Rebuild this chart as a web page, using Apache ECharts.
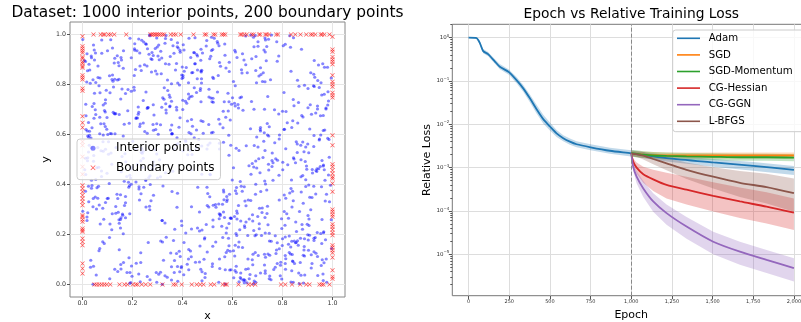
<!DOCTYPE html>
<html>
<head>
<meta charset="utf-8">
<script src="https://cdn.jsdelivr.net/npm/echarts@6/dist/echarts.min.js"></script>
<style>
  html, body { margin: 0; padding: 0; background: #fff; }
  #chart { width: 801px; height: 322px; }
</style>
</head>
<body>
<div id="chart"></div>
<script>
// ---- left panel: sampled collocation points (coordinates in thousandths) ----
const interiorX = [
  412,87,953,266,731,58,604,319,882,147,495,773,21,638,356,909,184,527,690,243,806,67,451,975,332,
  718,129,586,44,861,397,253,674,915,506,172,788,339,62,945,223,611,480,834,97,367,752,18,593,268,
  859,305,476,141,702,926,583,36,415,667,290,824,153,548,77,971,436,219,650,888,12,379,731,505,164,
  643,92,817,358,470,995,226,571,113,758,401,682,29,534,886,260,147,712,966,341,599,81,448,829,187,
  276,719,53,904,438,615,172,351,787,964,25,497,663,312,846,108,574,233,680,941,386,702,155,518,839,
  107,552,381,925,66,740,284,833,491,13,677,320,958,215,586,749,42,413,876,138,624,297,981,459,730,
  562,840,199,478,726,347,903,114,659,271,812,48,523,694,378,160,937,605,83,449,771,236,564,915,302,
  934,214,673,17,589,192,450,768,330,881,140,616,259,977,402,855,73,737,521,308,984,167,425,693,56,
  383,616,741,265,133,877,519,61,947,424,229,705,584,91,362,498,810,143,672,918,255,547,39,786,465,
  21,468,129,803,974,307,655,432,209,591,738,874,356,117,827,635,278,959,468,31,710,390,852,120,626,
  695,901,433,577,248,813,76,696,357,152,963,475,92,747,196,540,421,663,225,806,581,64,332,948,243,
  158,330,880,642,511,34,958,245,792,612,387,181,836,543,284,969,109,327,893,406,146,759,617,473,881,
  813,47,286,190,797,425,570,133,888,477,53,667,319,986,701,44,596,832,270,563,933,478,206,18,691,
  468,762,524,938,70,693,231,846,51,732,297,522,156,419,653,287,872,201,521,110,374,843,684,564,147,
  249,575,36,376,456,988,368,514,619,315,865,42,931,243,70,906,358,756,14,685,842,195,91,779,407,
  925,195,658,837,322,139,801,28,402,186,676,744,471,796,548,153,640,477,396,981,228,516,437,300,965,
  591,883,417,69,679,564,292,953,729,944,509,225,609,377,863,482,95,939,615,254,587,661,883,123,237,
  334,26,787,551,913,259,631,380,164,571,83,906,281,46,188,728,330,62,840,747,12,399,152,852,731,
  76,420,218,722,167,824,461,706,860,239,350,793,685,566,980,361,771,434,208,488,687,934,720,649,38,
  748,653,967,283,545,403,98,215,506,681,927,431,19,712,283,600,27,868,561,146,349,295,24,406,586,
  457,279,104,893,25,666,941,585,98,814,198,626,844,158,460,834,545,127,730,905,495,777,545,940,172,
  189,957,609,441,780,189,313,832,624,435,769,118,378,902,594,101,926,693,317,61,811,103,874,263,834,
  875,143,380,617,223,954,740,55,293,52,612,317,549,226,728,269,402,231,995,430,220,591,355,730,483,
  608,509,819,141,513,83,560,474,964,708,413,963,697,8,352,961,631,522,82,670,893,447,629,193,51,
  297,716,43,967,654,486,1,396,129,548,864,253,71,640,821,489,130,807,460,776,541,28,918,476,662,
  968,367,754,312,855,739,871,679,747,901,24,737,456,502,100,713,837,332,577,230,1,856,207,813,920,
  522,38,258,510,124,305,189,916,425,334,505,888,163,791,618,398,74,996,711,919,647,321,735,92,376,
  32,860,697,799,405,614,424,278,185,474,653,170,913,326,957,69,270,594,173,359,122,692,499,569,270,
  727,234,551,35,963,909,646,725,611,81,312,587,785,253,243,546,749,91,889,516,787,233,86,318,779,
  388,604,902,634,194,212,357,163,844,779,970,401,33,673,501,899,456,647,340,633,926,516,951,686,510,
  843,426,178,235,568,848,785,498,20,622,111,827,565,130,797,182,984,372,45,800,391,146,610,24,120,
  190,707,435,866,742,35,499,633,550,364,731,57,274,886,335,650,324,873,742,209,44,808,424,847,867,
  624,987,636,154,303,445,117,982,274,891,490,282,707,381,905,12,608,214,520,974,693,356,163,390,654,
  447,110,811,521,53,765,687,391,730,207,152,955,438,595,48,732,235,684,436,104,472,972,762,573,346,
  962,532,366,712,908,283,924,116,452,522,841,686,13,233,636,426,800,154,911,577,154,702,259,161,896,
  254,811,20,395,474,579,66,811,195,723,382,119,884,963,168,897,523,473,85,755,837,245,539,728,436,
  693,299,567,976,239,127,604,369,926,69,646,588,225,714,389,298,99,947,618,297,569,630,874,940,213,
  36,648,902,108,691,887,260,548,615,956,18,460,745,533,925,557,732,14,353,929,9,478,46,335,582,
  575,933,229,586,350,412,807,42,333,291,745,356,611,65,744,88,376,547,801,380,712,853,313,626,774,
  133,177,681,829,838,940,474,758,878,440,927,859,172,843,21,639,952,397,263,134,268,77,703,477,992
]
const interiorY = [
  733,164,598,921,45,387,812,256,670,139,954,503,287,846,71,622,409,985,195,534,768,318,883,102,447,
  288,905,517,73,646,236,963,441,119,781,352,598,29,874,463,710,157,926,384,621,48,819,270,557,998,
  562,41,823,344,971,185,694,417,868,23,539,265,742,102,925,334,660,480,16,797,373,951,206,640,88,
  17,739,283,604,154,826,391,59,979,472,700,121,858,309,531,943,245,614,87,776,418,171,927,366,645,
  850,306,680,137,520,49,764,912,338,207,589,976,63,431,715,188,866,495,279,36,629,953,451,731,120,
  404,873,13,552,795,313,617,150,44,721,903,170,496,667,244,34,819,572,941,361,706,9,585,823,268,
  627,94,470,218,938,758,178,526,847,400,61,765,317,912,587,282,452,27,718,883,195,544,378,66,914,
  125,664,336,810,58,426,987,699,246,570,818,364,605,9,836,168,643,378,153,499,734,413,59,856,302,
  946,388,752,427,285,676,72,345,788,102,926,503,185,690,955,542,237,888,623,84,961,283,712,437,580,
  507,214,61,955,706,899,555,134,963,658,284,37,733,481,128,393,900,99,290,805,447,667,167,946,11,
  199,562,908,332,879,103,432,807,602,226,474,850,541,205,74,770,519,338,982,620,137,393,883,582,736,
  782,35,221,697,439,586,260,970,77,930,133,695,418,836,357,618,23,787,550,168,875,526,294,61,436,
  345,938,678,48,224,743,917,312,183,554,808,262,1,580,272,958,721,122,435,693,362,51,789,923,128,
  90,487,824,463,767,9,642,502,699,402,986,609,898,81,994,476,185,573,829,242,559,740,3,290,680,
  612,128,385,884,546,331,96,746,285,843,46,311,188,646,826,236,372,998,675,470,92,907,632,167,853,
  841,773,7,173,394,915,489,613,535,107,732,481,776,263,542,80,923,441,72,718,338,607,847,426,211,
  266,325,725,603,99,569,854,204,414,878,351,42,937,698,157,652,777,208,545,310,889,196,117,689,977,
  698,881,143,276,847,704,28,365,935,2,598,262,461,724,395,121,965,828,373,631,505,870,260,487,55,
  454,654,935,508,641,161,389,834,175,469,714,89,216,339,869,453,69,603,943,182,14,456,812,228,396,
  174,61,459,719,9,959,668,85,750,254,896,537,614,46,916,747,557,292,188,821,711,48,530,938,731,
  920,464,571,392,331,475,816,597,445,692,33,170,987,512,226,10,322,684,811,398,240,971,661,112,267,
  5,758,114,848,497,283,174,949,316,111,567,820,309,784,59,600,131,494,906,548,84,345,431,708,853,
  370,289,967,196,681,807,598,38,620,926,375,709,64,382,701,299,828,11,259,751,666,133,980,536,605,
  725,903,647,52,913,533,321,731,478,305,206,16,466,896,618,883,412,745,571,40,419,787,219,8,350,
  522,196,344,761,250,101,980,254,821,565,728,419,242,148,479,187,682,358,858,138,965,597,348,806,102,
  869,542,19,639,571,644,88,484,23,199,648,952,768,558,935,372,55,984,226,874,293,212,777,543,446,
  231,627,874,441,790,958,437,681,140,996,310,114,865,35,262,824,535,144,620,460,7,747,895,328,709,
  69,817,590,156,39,204,762,928,389,655,879,523,299,741,164,669,995,266,491,603,813,361,130,962,19,
  607,363,281,914,676,349,20,573,714,305,49,852,682,416,505,955,117,725,38,936,582,88,643,256,893,
  798,135,707,23,462,860,638,203,507,84,417,737,97,998,364,241,618,391,818,254,176,989,472,701,566,
  335,985,48,529,268,84,914,389,855,720,604,194,370,603,22,780,438,858,516,693,929,259,56,393,838,
  985,243,459,793,122,548,316,46,642,176,930,467,903,138,686,334,97,557,239,937,493,621,807,174,4,
  150,509,859,267,601,928,219,771,335,492,28,640,223,806,527,892,272,410,83,702,35,803,594,937,315,
  587,767,190,940,420,60,556,112,986,836,359,76,753,264,898,109,856,989,311,521,784,179,417,669,881,
  42,320,925,628,197,491,795,603,89,258,655,951,440,127,750,608,183,62,719,352,908,550,32,277,474,
  770,116,495,67,854,339,135,961,401,847,564,283,6,616,316,461,729,897,261,173,628,389,972,78,222,
  401,950,731,361,525,886,467,221,596,144,898,361,689,840,51,842,344,578,908,643,111,747,499,702,544,
  907,235,276,835,996,152,708,888,73,391,256,914,594,170,393,233,978,620,126,829,459,15,665,189,765,
  206,686,632,155,749,577,292,1,723,944,458,18,795,469,981,696,124,263,459,72,867,250,933,536,124,
  684,432,79,995,310,714,941,496,240,633,792,528,327,9,594,373,675,838,168,548,313,978,116,857,397
]
// boundary points, position along each edge
const boundaryTopX = [0.044,0.073,0.083,0.089,0.104,0.113,0.127,0.175,0.271,0.277,0.284,0.291,0.297,0.304,0.311,0.32,0.327,0.353,0.364,0.373,0.393,0.444,0.489,0.495,0.524,0.531,0.557,0.564,0.571,0.631,0.637,0.647,0.657,0.677,0.684,0.706,0.711,0.731,0.737,0.746,0.775,0.782,0.834,0.851,0.872,0.895,0.913,0.92,0.931,0.953,0.958,0.967,0.988]
const boundaryLeftY = [0.993,0.953,0.944,0.935,0.927,0.91,0.904,0.891,0.884,0.873,0.867,0.837,0.828,0.82,0.784,0.775,0.673,0.647,0.628,0.571,0.557,0.511,0.471,0.441,0.397,0.384,0.371,0.357,0.344,0.331,0.317,0.277,0.271,0.26,0.251,0.224,0.217,0.211,0.184,0.171,0.157,0.084,0.064,0.044]
const boundaryRightY = [0.991,0.94,0.931,0.91,0.9,0.891,0.881,0.837,0.811,0.801,0.791,0.767,0.757,0.748,0.597,0.557,0.481,0.471,0.457,0.444,0.431,0.424,0.404,0.371,0.3,0.291,0.28,0.271,0.241,0.231,0.22,0.207,0.197,0.157,0.148,0.137,0.127,0.108,0.057,0.031,0.023]
const boundaryBottomX = [0.048,0.057,0.067,0.077,0.087,0.097,0.111,0.148,0.168,0.18,0.201,0.213,0.22,0.237,0.253,0.271,0.32,0.364,0.373,0.397,0.437,0.457,0.471,0.484,0.513,0.527,0.561,0.571,0.577,0.624,0.664,0.677,0.691,0.794,0.811,0.838,0.871,0.895,0.908,0.948,0.957,0.964,0.988]
const unitTicks = [0, 0.2, 0.4, 0.6, 0.8, 1.0]

// ---- right panel: relative loss, stored as log10(loss) ----
const adamEpochs = [0,49,70,90,120,162,192,250,295,336,377,418,459,500,541,582,623,664,750,869,1000,1217,1504,1750,2000]
const adamLog    = [0,-0.01,-0.13,-0.31,-0.38,-0.55,-0.67,-0.80,-0.98,-1.17,-1.40,-1.65,-1.88,-2.05,-2.21,-2.32,-2.40,-2.46,-2.53,-2.61,-2.67,-2.78,-2.88,-2.96,-3.05]
const adamUp     = [0.01,0.02,0.04,0.05,0.05,0.05,0.06,0.06,0.07,0.08,0.09,0.10,0.10,0.09,0.08,0.07,0.07,0.07,0.07,0.07,0.07,0.07,0.08,0.09,0.09]
const adamDown   = [0.01,0.02,0.04,0.05,0.05,0.05,0.06,0.06,0.07,0.08,0.09,0.10,0.10,0.09,0.08,0.07,0.07,0.07,0.07,0.07,0.07,0.08,0.10,0.11,0.12]

const lateEpochs = [1000,1012,1033,1074,1135,1217,1340,1504,1668,1832,2000]
const sgdLog     = [-2.67,-2.68,-2.69,-2.70,-2.71,-2.72,-2.72,-2.72,-2.72,-2.72,-2.72]
const sgdUp      = [0.07,0.07,0.07,0.07,0.07,0.07,0.07,0.07,0.07,0.07,0.07]
const sgdDown    = [0.07,0.07,0.07,0.07,0.07,0.07,0.07,0.07,0.07,0.07,0.07]
const momLog     = [-2.67,-2.67,-2.68,-2.70,-2.72,-2.73,-2.74,-2.75,-2.76,-2.76,-2.77]
const momUp      = [0.08,0.08,0.08,0.08,0.08,0.08,0.08,0.08,0.08,0.08,0.08]
const momDown    = [0.08,0.08,0.08,0.08,0.08,0.08,0.08,0.08,0.08,0.08,0.08]
const hessLog    = [-2.67,-2.86,-3.00,-3.15,-3.27,-3.40,-3.51,-3.65,-3.78,-3.90,-4.04]
const hessUp     = [0.03,0.07,0.12,0.17,0.22,0.28,0.30,0.31,0.32,0.33,0.33]
const hessDown   = [0.03,0.08,0.14,0.20,0.27,0.31,0.34,0.36,0.38,0.39,0.40]
const ggnLog     = [-2.67,-2.98,-3.21,-3.48,-3.78,-4.05,-4.36,-4.71,-4.94,-5.13,-5.32]
const ggnUp      = [0.03,0.08,0.13,0.17,0.19,0.20,0.22,0.23,0.23,0.23,0.23]
const ggnDown    = [0.03,0.09,0.15,0.20,0.24,0.27,0.28,0.29,0.30,0.30,0.31]
const lbfgsLog   = [-2.67,-2.68,-2.69,-2.72,-2.80,-2.90,-3.05,-3.21,-3.35,-3.45,-3.59]
const lbfgsUp    = [0.04,0.05,0.06,0.08,0.10,0.13,0.17,0.22,0.27,0.31,0.34]
const lbfgsDown  = [0.04,0.05,0.06,0.09,0.12,0.16,0.21,0.27,0.33,0.38,0.43]

const epochTicks = [0, 250, 500, 750, 1000, 1250, 1500, 1750, 2000]
const decadeTicks = [-5, -4, -3, -2, -1, 0]
const switchEpoch = 1000

const FONT = 'DejaVu Sans'
const X_MARK = 'path://M0,1L1,0L5,4L9,0L10,1L6,5L10,9L9,10L5,6L1,10L0,9L4,5Z'

const interiorPts = []
for (let i = 0; i < Math.min(interiorX.length, interiorY.length); i++) {
  interiorPts.push([interiorX[i] / 1000, interiorY[i] / 1000])
}
const boundaryPts = []
boundaryTopX.forEach(x => boundaryPts.push([x, 1]))
boundaryBottomX.forEach(x => boundaryPts.push([x, 0]))
boundaryLeftY.forEach(y => boundaryPts.push([0, y]))
boundaryRightY.forEach(y => boundaryPts.push([1, y]))

// log-axis minor ticks (2..9 x 10^n)
const minorTicks = []
for (let n = -6; n <= 0; n++) {
  for (let k = 2; k <= 9; k++) minorTicks.push(n + Math.log10(k))
}

function methodSeries (name, color, epochs, mean, up, down, extra) {
  // shaded spread: polygon through the axis scales (upper edge, then lower edge back)
  const band = {
    name: name + ' band', type: 'custom', xAxisIndex: 1, yAxisIndex: 1,
    silent: true, z: 2, clip: true, data: [[epochs[0], mean[0]]],
    renderItem: function (params, api) {
      const pts = []
      for (let i = 0; i < epochs.length; i++) pts.push(api.coord([epochs[i], mean[i] + up[i]]))
      for (let i = epochs.length - 1; i >= 0; i--) pts.push(api.coord([epochs[i], mean[i] - down[i]]))
      return { type: 'polygon', shape: { points: pts }, style: { fill: color, opacity: 0.28 } }
    }
  }
  const line = Object.assign({
    name: name, type: 'line', xAxisIndex: 1, yAxisIndex: 1,
    symbol: 'none', silent: true, smooth: 0.25, z: 4,
    data: epochs.map((e, i) => [e, mean[i]]),
    lineStyle: { color: color, width: 1.8 },
    itemStyle: { color: color }
  }, extra || {})
  return [band, line]
}

const chart = echarts.init(document.getElementById('chart'))
const option = {
  animation: false,
  textStyle: { fontFamily: FONT },
  title: [{
    text: 'Dataset: 1000 interior points, 200 boundary points',
    left: 207.5, top: 5, textAlign: 'center', padding: 0,
    textStyle: { fontSize: 15.4, fontWeight: 'normal', color: '#000', fontFamily: FONT }
  }, {
    text: 'Epoch vs Relative Training Loss',
    left: 631.3, top: 7, textAlign: 'center', padding: 0,
    textStyle: { fontSize: 13.8, fontWeight: 'normal', color: '#000', fontFamily: FONT }
  }],
  legend: [{
    data: [{ name: 'Interior points', icon: 'circle' }, { name: 'Boundary points', icon: X_MARK }],
    orient: 'vertical', left: 77, top: 139,
    itemWidth: 5, itemHeight: 5, itemGap: 5.4,
    padding: [2.3, 6, 5, 13.5],
    backgroundColor: 'rgba(255,255,255,0.8)', borderColor: '#cccccc', borderWidth: 1, borderRadius: 3,
    selectedMode: false,
    textStyle: { fontSize: 12, lineHeight: 14, color: '#000', fontFamily: FONT, padding: [0, 0, 0, 15.5] }
  }, {
    data: ['Adam', 'SGD', 'SGD-Momentum', 'CG-Hessian', 'CG-GGN', 'L-BFGS'].map(n => ({ name: n, icon: 'rect' })),
    orient: 'vertical', left: 672.7, top: 30,
    itemWidth: 23, itemHeight: 1.6, itemGap: 4.6, symbolKeepAspect: false,
    padding: [2.3, 12, 4.4, 4.3],
    backgroundColor: 'rgba(255,255,255,0.8)', borderColor: '#cccccc', borderWidth: 1, borderRadius: 3,
    selectedMode: false,
    textStyle: { fontSize: 10.2, lineHeight: 12, color: '#000', fontFamily: FONT, padding: [0, 0, 0, 3.7] }
  }],
  grid: [
    { left: 70, top: 22, width: 275, height: 275, outerBoundsMode: 'none', containLabel: false,
      show: true, borderColor: '#888', borderWidth: 1, backgroundColor: 'transparent' },
    { left: 452.3, top: 24.3, width: 357.9, height: 271.4, outerBoundsMode: 'none', containLabel: false,
      show: true, borderColor: '#777', borderWidth: 1, backgroundColor: 'transparent' }
  ],
  xAxis: [{
    gridIndex: 0, type: 'value', min: -0.05, max: 1.05,
    name: 'x', nameLocation: 'middle', nameGap: 8.5,
    nameTextStyle: { fontSize: 11, color: '#000', fontFamily: FONT },
    axisLine: { show: false, onZero: false },
    axisTick: { show: true, length: 3, customValues: unitTicks, lineStyle: { color: '#555' } },
    axisLabel: { customValues: unitTicks, fontSize: 6.3, color: '#333', margin: 3, formatter: v => v.toFixed(1) },
    splitLine: { show: true, lineStyle: { color: '#e6e6e6', width: 1 } }
  }, {
    gridIndex: 1, type: 'value', min: -100, max: 2100,
    name: 'Epoch', nameLocation: 'middle', nameGap: 8.5,
    nameTextStyle: { fontSize: 11, color: '#000', fontFamily: FONT },
    axisLine: { show: false, onZero: false },
    axisTick: { show: true, length: 3.5, customValues: epochTicks, lineStyle: { color: '#555' } },
    axisLabel: { customValues: epochTicks, fontSize: 5, color: '#333', margin: 4 },
    splitLine: { show: true, lineStyle: { color: '#dddddd', width: 1 } }
  }],
  yAxis: [{
    gridIndex: 0, type: 'value', min: -0.05, max: 1.05,
    name: 'y', nameLocation: 'middle', nameGap: 16, nameRotate: 90,
    nameTextStyle: { fontSize: 11, color: '#000', fontFamily: FONT },
    axisLine: { show: false, onZero: false },
    axisTick: { show: true, length: 3, customValues: unitTicks, lineStyle: { color: '#555' } },
    axisLabel: { customValues: unitTicks, fontSize: 6.3, color: '#333', margin: 4, formatter: v => v.toFixed(1) },
    splitLine: { show: true, lineStyle: { color: '#e6e6e6', width: 1 } }
  }, {
    gridIndex: 1, type: 'value', min: -5.956, max: 0.309,
    name: 'Relative Loss', nameLocation: 'middle', nameGap: 17, nameRotate: 90,
    nameTextStyle: { fontSize: 11, color: '#000', fontFamily: FONT },
    axisLine: { show: false, onZero: false },
    axisTick: { show: true, length: 3.5, customValues: decadeTicks, lineStyle: { color: '#555' } },
    axisLabel: {
      customValues: decadeTicks, color: '#333', margin: 3,
      formatter: v => '{b|10}{s|' + (v === 0 ? '0' : '\u2212' + Math.abs(v)) + '}',
      rich: {
        b: { fontSize: 5.5, color: '#333', fontFamily: FONT },
        s: { fontSize: 4, color: '#333', fontFamily: FONT, padding: [0, 0, 4, 0] }
      }
    },
    splitLine: { show: true, lineStyle: { color: '#dddddd', width: 1 } }
  }, {
    gridIndex: 1, type: 'value', min: -5.956, max: 0.309, position: 'left',
    axisLine: { show: false, onZero: false },
    axisTick: { show: true, length: 2, customValues: minorTicks, lineStyle: { color: '#555' } },
    axisLabel: { show: false },
    splitLine: { show: false }
  }],
  series: [
    {
      name: 'Interior points', type: 'scatter', xAxisIndex: 0, yAxisIndex: 0,
      data: interiorPts, symbol: 'circle', symbolSize: 3.2, silent: true,
      itemStyle: { color: 'rgba(0,0,255,0.6)' }
    },
    {
      name: 'Boundary points', type: 'scatter', xAxisIndex: 0, yAxisIndex: 0,
      data: boundaryPts, symbol: X_MARK, symbolSize: 4.5, silent: true,
      itemStyle: { color: 'rgba(255,0,0,0.85)' }
    }
  ].concat(
    methodSeries('Adam', '#1f77b4', adamEpochs, adamLog, adamUp, adamDown, {
      markLine: {
        silent: true, symbol: ['none', 'none'], label: { show: false },
        lineStyle: { color: '#888', type: 'dashed', width: 1 },
        data: [{ xAxis: switchEpoch }]
      }
    }),
    methodSeries('SGD', '#ff7f0e', lateEpochs, sgdLog, sgdUp, sgdDown),
    methodSeries('SGD-Momentum', '#2ca02c', lateEpochs, momLog, momUp, momDown),
    methodSeries('CG-Hessian', '#d62728', lateEpochs, hessLog, hessUp, hessDown),
    methodSeries('CG-GGN', '#9467bd', lateEpochs, ggnLog, ggnUp, ggnDown),
    methodSeries('L-BFGS', '#8c564b', lateEpochs, lbfgsLog, lbfgsUp, lbfgsDown)
  )
}
chart.setOption(option)
</script>
</body>
</html>
